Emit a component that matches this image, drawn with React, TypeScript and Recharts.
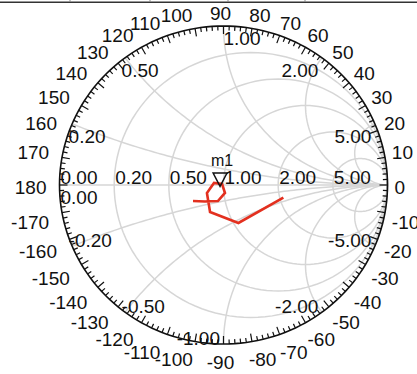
import React from 'react';
import { ScatterChart, Scatter, XAxis, YAxis } from 'recharts';

const s11Re = [-0.186, -0.113, -0.034, 0.009, -0.009, -0.058, -0.101, -0.082, 0.091, 0.365];
const s11Im = [-0.101, -0.104, -0.101, -0.05, 0.006, 0.013, -0.05, -0.17, -0.239, -0.079];

const markerName = 'm1';
const markerRe = -0.021;
const markerIm = -0.009;

// smith grid
const resistanceCircles = [0.2, 0.5, 1, 2, 5];
const reactanceArcs = [0.2, 0.5, 1, 2, 5, -0.2, -0.5, -1, -2, -5];

const resistanceTicks = [0, 0.2, 0.5, 1, 2, 5];
const resistanceTickLabels = ['0.00', '0.20', '0.50', '1.00', '2.00', '5.00'];
const reactanceTicks = [0, 0.2, 0.5, 1, 2, 5, -0.2, -0.5, -1, -2, -5];
const reactanceTickLabels = ['0.00', '0.20', '0.50', '1.00', '2.00', '5.00', '-0.20', '-0.50', '-1.00', '-2.00', '-5.00'];
const angleTickLabels = [
  0, 10, 20, 30, 40, 50, 60, 70, 80, 90, 100, 110, 120, 130, 140, 150, 160, 170, 180,
  -10, -20, -30, -40, -50, -60, -70, -80, -90, -100, -110, -120, -130, -140, -150, -160, -170,
];

const FONT = '"Liberation Sans", Arial, sans-serif';
const FS = 19;
const GRID = '#d6d6d6';

const clamp = (v: number) => Math.max(-1, Math.min(1, v));

const gammaOf = (r: number, x: number) => {
  const d = (r + 1) * (r + 1) + x * x;
  return { x: clamp((r * r + x * x - 1) / d), y: clamp((2 * x) / d) };
};

// keep every grid point inside the [-1, 1] domain so the axes stay fixed
const arc = (cx: number, cy: number, rad: number, a0: number, a1: number, n = 90) => {
  const pts = [];
  for (let i = 0; i <= n; i++) {
    const a = a0 + ((a1 - a0) * i) / n;
    pts.push({ x: clamp(cx + rad * Math.cos(a)), y: clamp(cy + rad * Math.sin(a)) });
  }
  return pts;
};

const unitCircle = arc(0, 0, 1, 0, Math.PI * 2, 180);
const axisLine = [{ x: -1, y: 0 }, { x: 1, y: 0 }];

const rCurves = resistanceCircles.map((r) => arc(r / (1 + r), 0, 1 / (1 + r), 0, Math.PI * 2, 120));
const xCurves = reactanceArcs.map((x) => {
  const g = gammaOf(0, x);
  const cy = 1 / x;
  let start = Math.atan2(g.y - cy, g.x - 1);
  const end = x > 0 ? -Math.PI / 2 : Math.PI / 2;
  if (x > 0 && start > 0) start -= Math.PI * 2;
  if (x < 0 && start < 0) start += Math.PI * 2;
  return arc(1, cy, 1 / Math.abs(x), start, end, 100);
});

const traceData = s11Re.map((re, i) => ({ x: re, y: s11Im[i] }));
const markerData = [{ x: markerRe, y: markerIm, name: markerName }];

const rLabelData = resistanceTicks.map((r, i) => ({ ...gammaOf(r, 0), label: resistanceTickLabels[i] }));
const xLabelData = reactanceTicks.map((x, i) => ({ ...gammaOf(0, x), v: x, label: reactanceTickLabels[i] }));

const ringTicks: { x: number; y: number; a: number }[] = [];
for (let a = -178; a <= 180; a += 2) {
  const t = (a * Math.PI) / 180;
  ringTicks.push({ x: clamp(Math.cos(t)), y: clamp(Math.sin(t)), a });
}
const angleLabelData = angleTickLabels.map((a) => {
  const t = (a * Math.PI) / 180;
  return { x: clamp(Math.cos(t)), y: clamp(Math.sin(t)), a, label: String(a) };
});

const Empty = () => <g />;

const textWidth = (s: string) =>
  s.split('').reduce((w, ch) => w + (ch === '-' ? 0.333 : ch === '.' ? 0.278 : 0.556) * FS, 0);

const RingTick = (props: any) => {
  const { cx, cy, payload } = props;
  const t = (payload.a * Math.PI) / 180;
  const len = payload.a % 10 === 0 ? 8 : 4.5;
  return (
    <line
      x1={cx}
      y1={cy}
      x2={cx - Math.cos(t) * len}
      y2={cy + Math.sin(t) * len}
      stroke="#111"
      strokeWidth={1.2}
    />
  );
};

const AngleLabel = (props: any) => {
  const { cx, cy, payload } = props;
  const t = (payload.a * Math.PI) / 180;
  const c = Math.cos(t);
  const s = Math.sin(t);
  const w = textWidth(payload.label);
  const x = cx + c * 10 + (clamp(c * 5) * w) / 2 - 3;
  const y = cy - s * 9 - clamp(s * 5) * 6.5 + 2.5;
  return (
    <text x={x} y={y} dy="0.35em" textAnchor="middle" fontSize={FS} fontFamily={FONT} fill="#111">
      {payload.label}
    </text>
  );
};

const RLabel = (props: any) => {
  const { cx, cy, payload } = props;
  return (
    <text x={cx + 1} y={cy - 1} textAnchor="start" fontSize={FS} fontFamily={FONT} fill="#111">
      {payload.label}
    </text>
  );
};

const XLabel = (props: any) => {
  const { cx, cy, payload } = props;
  const gx = payload.x;
  let anchor: 'start' | 'end' = 'start';
  if (gx > 0.01) anchor = 'end';
  else if (Math.abs(gx) <= 0.01 && payload.v < 0) anchor = 'end';
  const dx = Math.abs(gx) <= 0.01 && payload.v > 0 ? 0 : payload.v === 0 ? 1 : -3.5;
  const y = payload.v >= 0 ? cy + 19 : cy + 1;
  return (
    <text x={cx + dx} y={y} textAnchor={anchor} fontSize={FS} fontFamily={FONT} fill="#111">
      {payload.label}
    </text>
  );
};

const Marker = (props: any) => {
  const { cx, cy, payload } = props;
  return (
    <g>
      <path
        d={`M${cx - 7},${cy - 13.5} L${cx + 7},${cy - 13.5} L${cx},${cy} Z`}
        fill="none"
        stroke="#111"
        strokeWidth={1.4}
      />
      <text x={cx + 2} y={cy - 20} textAnchor="middle" fontSize={16} fontFamily={FONT} fill="#111">
        {payload.name}
      </text>
    </g>
  );
};

export default function App() {
  return (
    <div style={{ position: 'absolute', left: 0, top: 0, width: 417, height: 374, background: '#fff' }}>
      <svg width={417} height={5} style={{ position: 'absolute', left: 0, top: 0 }}>
        <line x1={0} y1={2.2} x2={417} y2={2.2} stroke="#333" strokeWidth={1.5} />
        {[70, 150, 228, 305].map((x) => (
          <line key={x} x1={x} y1={0} x2={x} y2={2} stroke="#888" strokeWidth={1} />
        ))}
      </svg>
      <ScatterChart width={417} height={374} margin={{ top: 26, right: 29.5, bottom: 30, left: 59.5 }}>
        <XAxis type="number" dataKey="x" domain={[-1, 1]} hide />
        <YAxis type="number" dataKey="y" domain={[-1, 1]} hide />
        <Scatter data={axisLine} line={{ stroke: GRID, strokeWidth: 1.5 }} shape={Empty} isAnimationActive={false} />
        {rCurves.map((pts, i) => (
          <Scatter key={`r${i}`} data={pts} line={{ stroke: GRID, strokeWidth: 1.5 }} shape={Empty} isAnimationActive={false} />
        ))}
        {xCurves.map((pts, i) => (
          <Scatter key={`x${i}`} data={pts} line={{ stroke: GRID, strokeWidth: 1.5 }} shape={Empty} isAnimationActive={false} />
        ))}
        <Scatter data={rLabelData} shape={RLabel} isAnimationActive={false} />
        <Scatter data={xLabelData} shape={XLabel} isAnimationActive={false} />
        <Scatter data={unitCircle} line={{ stroke: '#111', strokeWidth: 1.6 }} shape={Empty} isAnimationActive={false} />
        <Scatter data={ringTicks} shape={RingTick} isAnimationActive={false} />
        <Scatter data={angleLabelData} shape={AngleLabel} isAnimationActive={false} />
        <Scatter data={traceData} line={{ stroke: '#e3301f', strokeWidth: 2.6 }} shape={Empty} isAnimationActive={false} />
        <Scatter data={markerData} shape={Marker} isAnimationActive={false} />
      </ScatterChart>
    </div>
  );
}
